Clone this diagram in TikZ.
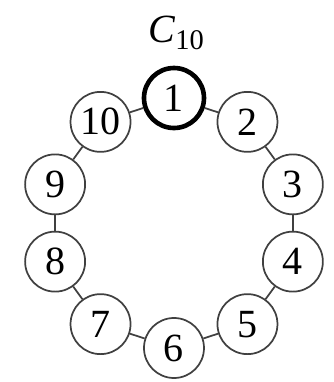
\documentclass[tikz,border=0pt]{standalone}
\usepackage{fontspec}
\setmainfont{Liberation Serif}
\usetikzlibrary{calc}
\begin{document}
\begin{tikzpicture}[x=0.26pt,y=0.26pt,
  vtx/.style={circle,draw=black!75,line width=0.45pt,inner sep=0pt,minimum size=15.6pt,font=\fontsize{10.4}{12}\selectfont},
  hub/.style={vtx,draw=black,line width=1.2pt},
  link/.style={draw=black!75,line width=0.45pt}]
\useasboundingbox (0,0) rectangle (334,382);
\coordinate (c) at (174,159);
\foreach \k in {1,...,10}{
  \ifnum\k=1
    \node[hub] (n\k) at ($(c)+(90-36*\k+36:125)$) {\k};
  \else
    \node[vtx] (n\k) at ($(c)+(90-36*\k+36:125)$) {\k};
  \fi
}
\foreach \a/\b in {1/2,2/3,3/4,4/5,5/6,6/7,7/8,8/9,9/10,10/1}
  \draw[link] (n\a) -- (n\b);
\node (lbl) at (176,349) {\fontsize{10.4}{12}\selectfont\textit{C}\raisebox{-0.35ex}{\fontsize{7.4}{8}\selectfont 10}};
\end{tikzpicture}
\end{document}
